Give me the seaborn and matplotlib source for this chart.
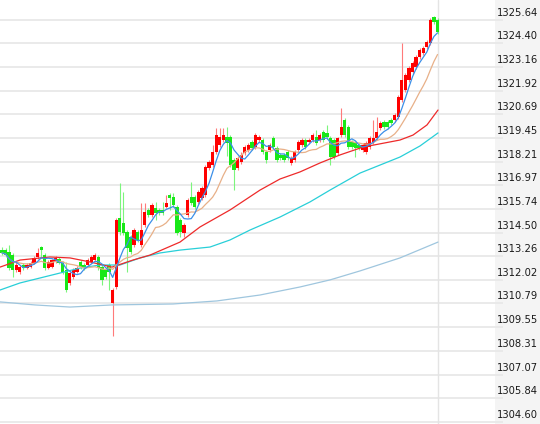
import numpy as np
import pandas as pd
import matplotlib
matplotlib.use("Agg")
import matplotlib.pyplot as plt
import matplotlib.transforms as mtransforms
import seaborn as sns

# OHLC de cada vela
opens = [1313.58, 1313.58, 1313.48, 1313.32, 1312.54, 1312.43, 1312.80, 1312.64, 1312.69, 1312.90,
         1313.22, 1313.74, 1313.32, 1312.64, 1312.69, 1312.96, 1313.13, 1312.90, 1312.54, 1311.86,
         1312.17, 1312.43, 1312.96, 1312.80, 1312.80, 1312.96, 1313.06, 1313.22, 1312.69, 1312.54,
         1312.80, 1310.81, 1311.65, 1315.26, 1315.00, 1314.53, 1314.26, 1313.84, 1314.53, 1313.84,
         1314.89, 1315.68, 1315.42, 1315.78, 1315.68, 1315.68, 1315.84, 1316.46, 1316.36, 1315.84,
         1315.15, 1314.47, 1315.42, 1316.36, 1316.36, 1316.10, 1316.31, 1316.46, 1317.88, 1318.03,
         1318.71, 1319.08, 1319.34, 1319.50, 1319.50, 1318.30, 1317.88, 1318.19, 1318.66, 1318.82,
         1319.24, 1318.97, 1319.34, 1319.34, 1318.71, 1318.82, 1319.45, 1318.92, 1318.56, 1318.56,
         1318.71, 1318.14, 1318.30, 1318.82, 1319.08, 1319.34, 1319.24, 1319.34, 1319.50, 1319.34,
         1319.76, 1319.71, 1319.45, 1319.34, 1318.66, 1319.60, 1320.39, 1320.02, 1319.24, 1319.18,
         1319.08, 1318.82, 1318.71, 1318.97, 1319.24, 1319.45, 1319.97, 1320.28, 1320.28, 1320.39,
         1320.39, 1320.54, 1321.44, 1321.96, 1322.48, 1322.90, 1323.16, 1323.68, 1323.89, 1324.21,
         1324.42, 1325.78, 1325.62]
highs = [1313.74, 1313.69, 1313.84, 1313.43, 1312.96, 1312.80, 1312.90, 1312.90, 1313.00, 1313.27,
         1313.69, 1313.79, 1313.43, 1313.06, 1313.13, 1313.27, 1313.22, 1313.00, 1312.96, 1312.48,
         1312.64, 1312.74, 1313.06, 1312.90, 1313.17, 1313.32, 1313.43, 1313.32, 1312.80, 1312.64,
         1312.90, 1311.60, 1315.26, 1317.09, 1316.62, 1314.63, 1314.37, 1314.73, 1314.63, 1316.04,
         1316.04, 1315.78, 1316.04, 1316.10, 1315.78, 1316.10, 1316.46, 1316.57, 1316.57, 1315.94,
         1315.26, 1315.00, 1316.31, 1317.14, 1316.46, 1316.72, 1316.93, 1318.03, 1318.30, 1319.08,
         1319.97, 1319.97, 1319.97, 1320.02, 1319.60, 1318.40, 1318.50, 1318.71, 1319.08, 1319.18,
         1319.34, 1319.71, 1319.60, 1319.45, 1318.82, 1319.18, 1319.55, 1319.02, 1318.66, 1318.66,
         1318.82, 1318.50, 1318.82, 1319.34, 1319.45, 1319.45, 1319.45, 1319.71, 1319.86, 1319.71,
         1319.86, 1320.13, 1319.55, 1319.45, 1319.50, 1321.01, 1320.49, 1320.13, 1319.34, 1319.29,
         1319.18, 1319.18, 1319.29, 1319.55, 1320.39, 1320.54, 1320.34, 1320.39, 1320.39, 1320.49,
         1320.75, 1321.69, 1324.42, 1322.85, 1323.21, 1323.47, 1323.78, 1324.15, 1324.26, 1324.57,
         1325.73, 1325.83, 1325.73]
lows = [1313.32, 1313.22, 1312.54, 1312.17, 1312.43, 1312.33, 1312.54, 1312.59, 1312.64, 1312.85,
        1313.13, 1313.17, 1312.54, 1312.59, 1312.64, 1312.90, 1312.85, 1312.33, 1311.39, 1311.75,
        1312.07, 1312.38, 1312.59, 1312.54, 1312.74, 1312.90, 1313.00, 1312.54, 1311.75, 1312.07,
        1311.49, 1309.08, 1311.55, 1314.37, 1314.37, 1312.43, 1313.38, 1313.74, 1314.00, 1313.74,
        1314.79, 1315.31, 1315.31, 1315.15, 1315.42, 1315.42, 1315.78, 1315.68, 1315.84, 1314.37,
        1314.26, 1314.26, 1315.31, 1315.94, 1315.73, 1316.00, 1316.20, 1316.36, 1317.77, 1317.93,
        1318.61, 1318.97, 1319.24, 1318.50, 1317.93, 1316.72, 1317.77, 1318.09, 1318.56, 1318.71,
        1318.82, 1318.87, 1319.24, 1318.61, 1318.14, 1318.71, 1318.87, 1318.19, 1318.30, 1318.19,
        1318.30, 1318.03, 1318.19, 1318.71, 1318.97, 1318.87, 1319.13, 1319.24, 1319.08, 1319.24,
        1319.24, 1319.40, 1318.03, 1318.35, 1318.56, 1319.50, 1319.50, 1318.87, 1318.87, 1318.45,
        1318.82, 1318.71, 1318.61, 1318.87, 1319.13, 1319.34, 1319.86, 1319.92, 1319.92, 1320.13,
        1320.28, 1320.44, 1321.33, 1321.86, 1322.38, 1322.80, 1323.06, 1323.58, 1323.78, 1324.10,
        1324.31, 1325.42, 1324.89]
closes = [1313.43, 1313.32, 1312.64, 1312.54, 1312.80, 1312.69, 1312.64, 1312.80, 1312.90, 1313.17,
          1313.43, 1313.58, 1312.64, 1312.96, 1313.06, 1313.17, 1312.90, 1312.43, 1311.49, 1312.38,
          1312.54, 1312.64, 1312.69, 1312.64, 1313.06, 1313.22, 1313.32, 1312.64, 1312.02, 1312.17,
          1312.43, 1311.49, 1315.15, 1314.53, 1314.47, 1313.69, 1313.48, 1314.63, 1314.11, 1314.63,
          1315.57, 1315.42, 1315.94, 1315.52, 1315.52, 1315.52, 1316.04, 1316.31, 1315.94, 1314.47,
          1314.53, 1314.89, 1316.20, 1316.04, 1315.84, 1316.62, 1316.83, 1317.93, 1318.19, 1318.71,
          1319.60, 1319.50, 1319.60, 1319.18, 1318.03, 1317.77, 1318.40, 1318.56, 1318.97, 1319.08,
          1318.92, 1319.60, 1319.50, 1318.71, 1318.30, 1319.08, 1318.97, 1318.30, 1318.40, 1318.30,
          1318.40, 1318.40, 1318.71, 1319.24, 1319.34, 1318.97, 1319.34, 1319.60, 1319.18, 1319.60,
          1319.34, 1319.50, 1318.45, 1318.45, 1319.45, 1320.02, 1319.60, 1318.97, 1318.97, 1318.92,
          1318.92, 1319.08, 1319.18, 1319.45, 1319.45, 1319.76, 1320.23, 1320.02, 1320.02, 1320.23,
          1320.65, 1321.59, 1322.48, 1322.74, 1323.11, 1323.37, 1323.68, 1324.05, 1324.15, 1324.47,
          1325.62, 1325.52, 1324.99]

# medias largas (posicion en velas, valor)
ma_red_x = [-0.56, 5.04, 13.45, 19.05, 24.65, 30.81, 36.69, 41.46, 49.86, 55.46, 63.87, 72.27,
            77.87, 83.47, 89.08, 94.68, 101.12, 111.48, 115.13, 119.05, 122.13]
ma_red_y = [1312.69, 1313.06, 1313.22, 1313.17, 1312.96, 1312.69, 1313.06, 1313.32, 1314.00,
            1314.79, 1315.68, 1316.72, 1317.30, 1317.67, 1318.14, 1318.56, 1318.97, 1319.34,
            1319.60, 1320.13, 1320.91]
ma_cyan_x = [-0.56, 5.04, 10.64, 16.25, 21.85, 27.45, 33.05, 38.66, 44.26, 49.86, 58.26, 63.87,
             69.47, 77.87, 86.27, 91.88, 100.28, 105.88, 111.48, 117.09, 122.13]
ma_cyan_y = [1311.49, 1311.86, 1312.12, 1312.38, 1312.64, 1312.80, 1312.80, 1313.17, 1313.43,
             1313.58, 1313.74, 1314.11, 1314.63, 1315.31, 1316.10, 1316.72, 1317.61, 1318.03,
             1318.45, 1319.03, 1319.71]
ma_lblue_x = [-0.56, 9.24, 19.05, 30.81, 47.90, 60.22, 72.27, 83.47, 91.88, 100.28, 111.48, 122.13]
ma_lblue_y = [1310.87, 1310.71, 1310.60, 1310.71, 1310.76, 1310.92, 1311.23, 1311.65, 1312.02,
              1312.49, 1313.17, 1314.00]

price_labels = ["1304.60", "1305.84", "1307.07", "1308.31", "1309.55", "1310.79", "1312.02",
                "1313.26", "1314.50", "1315.74", "1316.97", "1318.21", "1319.45", "1320.69",
                "1321.92", "1323.16", "1324.40", "1325.64"]

df = pd.DataFrame({"open": opens, "high": highs, "low": lows, "close": closes})
df["idx"] = np.arange(len(df))
df["ma_a"] = df["close"].rolling(5, min_periods=1).mean()
df["ma_b"] = df["close"].rolling(12, min_periods=1).mean()
up = df["close"] >= df["open"]

sns.set_style("white")
fig = plt.figure(figsize=(5.4, 4.24), dpi=100)
ax = fig.add_axes([0, 0, 1, 1])

# panel gris de precios
ax.axvspan(138.1, 151, color="#f4f4f4", zorder=0, lw=0)

levels = [float(v) for v in price_labels]
ax.hlines(levels, -1, 140.3, color="#e8e8e8", lw=1.3, zorder=1)
ax.axvline(122.1, color="#e4e4e4", lw=1, zorder=1)

lbl_tr = mtransforms.offset_copy(ax.transData, fig=fig, x=0, y=5, units="points")
for v, s in zip(levels, price_labels):
    ax.text(138.6, v, s, transform=lbl_tr, fontsize=7.2, color="#1a1a1a",
            va="center", ha="left", zorder=5)

# velas
wick_col = np.where(up, "#ff7a7a", "#7cf57c")
body_col = np.where(up, "#ff0000", "#18e818")
ax.vlines(df["idx"], df["low"], df["high"], colors=wick_col, lw=0.8, zorder=2)
body_h = (df["close"] - df["open"]).abs().clip(lower=0.06)
body_b = df[["open", "close"]].min(axis=1)
ax.bar(df["idx"], body_h, bottom=body_b, width=0.92, color=body_col, lw=0, zorder=3)

# medias moviles
sns.lineplot(x=ma_lblue_x, y=ma_lblue_y, ax=ax, color="#9fc6de", lw=0.9, sort=False, zorder=4)
sns.lineplot(x=ma_cyan_x, y=ma_cyan_y, ax=ax, color="#28cfd8", lw=0.9, sort=False, zorder=4)
sns.lineplot(x=ma_red_x, y=ma_red_y, ax=ax, color="#ee2a2a", lw=0.9, sort=False, zorder=4)
sns.lineplot(data=df, x="idx", y="ma_b", ax=ax, color="#e8b088", lw=0.9, zorder=4)
sns.lineplot(data=df, x="idx", y="ma_a", ax=ax, color="#3b8fe8", lw=0.9, zorder=4)

ax.set_xlim(-0.56, 150.7)
ax.set_ylim(1304.48, 1326.667)
ax.set_axis_off()

fig.savefig("out.png", dpi=100, facecolor="white")
